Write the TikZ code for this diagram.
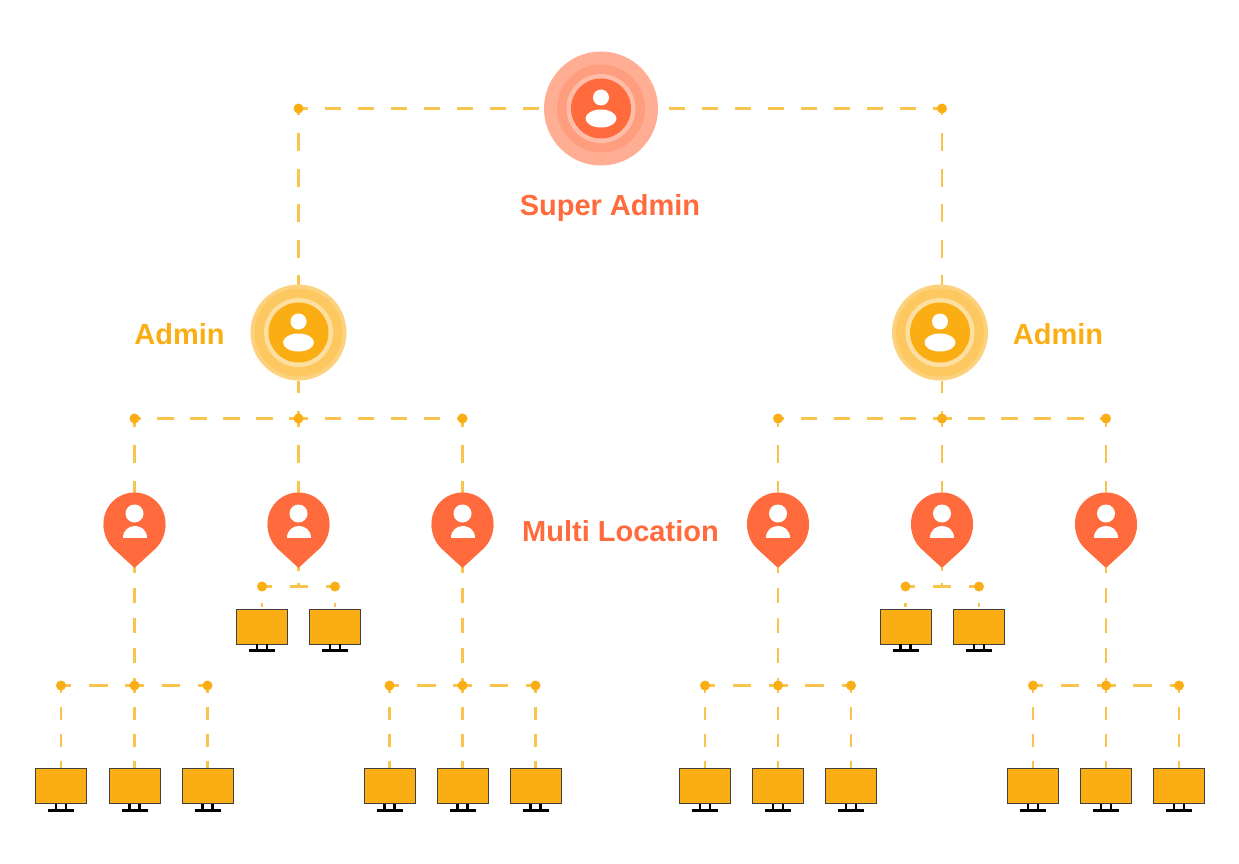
\documentclass[tikz,border=0pt]{standalone}
\usepackage{fontspec}
\setmainfont{Liberation Sans}
\usepackage{xcolor}
\usetikzlibrary{positioning,backgrounds}

\definecolor{coral}{HTML}{FF6B3D}
\definecolor{amber}{HTML}{FBAE14}
\definecolor{dashline}{HTML}{F8C44E}

% person glyph, drawn around the origin of the current scope
\newcommand{\personicon}{%
  \fill[white] (0,-11) circle (8);
  \fill[white] (0,10) ellipse (15.5 and 9);
}
% rings of a role badge: scale, middle ring, thin ring, core
\newcommand{\rolerings}[4]{%
  \begin{scope}[shift={(path picture bounding box.center)},scale=#1]
    \fill[#2] (0,0) circle (44);
    \fill[#3] (0,0) circle (34.5);
    \fill[#4] (0,0) circle (30);
    \personicon
  \end{scope}
}

\begin{document}
\begin{tikzpicture}[
  x=1pt,y=-1pt,
  on grid,
  every node/.style={font=\fontsize{29}{32}\selectfont\bfseries,inner sep=0pt,outer sep=0pt},
  superbadge/.style={circle,fill=coral!55!white,minimum size=114pt,path picture={\rolerings{1}{coral!66!white}{coral!45!white}{coral}}},
  adminbadge/.style={circle,fill=amber!55!white,minimum size=96pt,path picture={\rolerings{0.83}{amber!68!white}{amber!40!white}{amber}}},
  pinmark/.style={circle,fill=coral,minimum size=62pt,
    append after command={\pgfextra{
      \fill[coral] (\tikzlastnode.center) ++(-31,0) .. controls ++(0,14) and ++(-5.5,-5) .. ++(11.5,26.5)
        -- ++(18.5,17) -- ++(1,0.6) -- ++(1,-0.6) -- ++(18.5,-17)
        .. controls ++(5.5,-5) and ++(0,14) .. ++(11.5,-26.5) -- cycle;}},
    path picture={\begin{scope}[shift={(path picture bounding box.center)}]
      \fill[white] (0,-10) circle (9);
      \fill[white] (-12,14) .. controls (-12,-2) and (12,-2) .. (12,14) -- cycle;
    \end{scope}}},
  dot/.style={circle,fill=amber,minimum size=10pt},
  screen/.style={rectangle,draw=black!75,line width=0.9pt,fill=amber,minimum width=51pt,minimum height=35pt,
    append after command={
      (\tikzlastnode.south) ++(-5,0) edge[stand] ++(0,5)
      (\tikzlastnode.south) ++(5,0) edge[stand] ++(0,5)
      (\tikzlastnode.south) ++(-13,6.5) edge[stand,line width=3pt] ++(26,0)}},
  stand/.style={draw=black,line width=2.4pt},
  link/.style={draw=dashline,line width=2.2pt,dash pattern=on 16.5pt off 16.5pt,dash phase=7pt},
  rise/.style={draw=dashline,line width=2.2pt,dash pattern=on 18pt off 17.5pt,dash phase=11pt},
  feed/.style={draw=dashline,line width=2.2pt,dash pattern=on 18pt off 18pt,dash phase=10pt},
  drop/.style={draw=dashline,line width=2.2pt,dash pattern=on 15pt off 15pt,dash phase=7pt},
  lead/.style={draw=dashline,line width=2.2pt,dash pattern=on 13pt off 14pt,dash phase=6pt},
  fork/.style={draw=dashline,line width=2.2pt,dash pattern=on 9.5pt off 17.5pt on 18.5pt off 18pt on 10pt off 5pt},
  tie/.style={draw=dashline,line width=2.2pt,dash pattern=on 9pt off 18pt},
  stub/.style={draw=dashline,line width=2.2pt,dash pattern=on 4pt off 12pt},
  label/.style={text=coral},
  adminlabel/.style={text=amber}
]
\useasboundingbox (0,0) rectangle (1239,864);

\node[superbadge] (super) at (601,108.5) {};
\node[dot,left=302.5pt of super] (cornerL) {};
\node[dot,right=341pt of super] (cornerR) {};
\node[label,below=99.5pt of super,xshift=9pt] (superText) {Super Admin};

% left branch
\node[adminbadge,below=224pt of cornerL] (adminL) {};
\node[adminlabel,left=119pt of adminL,yshift=-1.5pt] (adminTextL) {Admin};
\node[dot,below=86pt of adminL] (hubL) {};
\node[dot,left=164pt of hubL] (hubLa) {};
\node[dot,right=164pt of hubL] (hubLc) {};
\node[pinmark,below=105pt of hubLa] (pinLa) {};
\node[pinmark,below=105pt of hubL] (pinLb) {};
\node[pinmark,below=105pt of hubLc] (pinLc) {};
\node[label,right=158pt of pinLc,yshift=-8pt] (multiText) {Multi Location};

\node[dot,below=162pt of pinLa] (forkLa) {};
\node[dot,left=73.5pt of forkLa] (forkLa1) {};
\node[dot,right=73pt of forkLa] (forkLa3) {};
\node[screen,below=100.5pt of forkLa1] (screenLa1) {};
\node[screen,below=100.5pt of forkLa] (screenLa2) {};
\node[screen,below=100.5pt of forkLa3] (screenLa3) {};

\coordinate[below=63pt of pinLb] (forkLb);
\node[dot,below=63pt of pinLb,xshift=-36.5pt] (forkLb1) {};
\node[dot,below=63pt of pinLb,xshift=36.5pt] (forkLb2) {};
\node[screen,below=40pt of forkLb1] (screenLb1) {};
\node[screen,below=40pt of forkLb2] (screenLb2) {};

\node[dot,below=162pt of pinLc] (forkLc) {};
\node[dot,left=73pt of forkLc] (forkLc1) {};
\node[dot,right=73pt of forkLc] (forkLc3) {};
\node[screen,below=100.5pt of forkLc1] (screenLc1) {};
\node[screen,below=100.5pt of forkLc] (screenLc2) {};
\node[screen,below=100.5pt of forkLc3] (screenLc3) {};

% right branch
\node[adminbadge,below=224pt of cornerR,xshift=-2pt] (adminR) {};
\node[adminlabel,right=118pt of adminR,yshift=-1.5pt] (adminTextR) {Admin};
\node[dot,below=310pt of cornerR] (hubR) {};
\node[dot,left=164pt of hubR] (hubRa) {};
\node[dot,right=164pt of hubR] (hubRc) {};
\node[pinmark,below=105pt of hubRa] (pinRa) {};
\node[pinmark,below=105pt of hubR] (pinRb) {};
\node[pinmark,below=105pt of hubRc] (pinRc) {};

\node[dot,below=162pt of pinRa] (forkRa) {};
\node[dot,left=73pt of forkRa] (forkRa1) {};
\node[dot,right=73pt of forkRa] (forkRa3) {};
\node[screen,below=100.5pt of forkRa1] (screenRa1) {};
\node[screen,below=100.5pt of forkRa] (screenRa2) {};
\node[screen,below=100.5pt of forkRa3] (screenRa3) {};

\coordinate[below=63pt of pinRb] (forkRb);
\node[dot,below=63pt of pinRb,xshift=-36.5pt] (forkRb1) {};
\node[dot,below=63pt of pinRb,xshift=37pt] (forkRb2) {};
\node[screen,below=40pt of forkRb1] (screenRb1) {};
\node[screen,below=40pt of forkRb2] (screenRb2) {};

\node[dot,below=162pt of pinRc] (forkRc) {};
\node[dot,left=73pt of forkRc] (forkRc1) {};
\node[dot,right=73pt of forkRc] (forkRc3) {};
\node[screen,below=100.5pt of forkRc1] (screenRc1) {};
\node[screen,below=100.5pt of forkRc] (screenRc2) {};
\node[screen,below=100.5pt of forkRc3] (screenRc3) {};

\begin{scope}[on background layer]
\draw[link] (cornerL.center) -- (super);
\draw[link] (cornerR.center) -- (super);
\draw[rise] (cornerL.center) -- (adminL);
\draw[rise] (cornerR.center) -- (cornerR.center |- adminR.north);

\draw[feed] (hubL.center) -- (adminL);
\draw[link] (hubL.center) -- (hubLa.center);
\draw[link] (hubL.center) -- (hubLc.center);
\draw[feed] (hubLa.center) -- (pinLa);
\draw[feed] (hubL.center) -- (pinLb);
\draw[feed] (hubLc.center) -- (pinLc);
\draw[drop] (forkLa.center) -- (pinLa);
\draw[fork] (forkLa.center) -- (forkLa1.center);
\draw[fork] (forkLa.center) -- (forkLa3.center);
\draw[lead] (forkLa1.center) -- (screenLa1);
\draw[lead] (forkLa.center) -- (screenLa2);
\draw[lead] (forkLa3.center) -- (screenLa3);
\draw[stub] (forkLb) -- (pinLb);
\draw[tie] (forkLb) -- (forkLb1.center);
\draw[tie] (forkLb) -- (forkLb2.center);
\draw[stub] (forkLb1.center) -- (screenLb1);
\draw[stub] (forkLb2.center) -- (screenLb2);
\draw[drop] (forkLc.center) -- (pinLc);
\draw[fork] (forkLc.center) -- (forkLc1.center);
\draw[fork] (forkLc.center) -- (forkLc3.center);
\draw[lead] (forkLc1.center) -- (screenLc1);
\draw[lead] (forkLc.center) -- (screenLc2);
\draw[lead] (forkLc3.center) -- (screenLc3);

\draw[feed] (hubR.center) -- (hubR.center |- adminR.south);
\draw[link] (hubR.center) -- (hubRa.center);
\draw[link] (hubR.center) -- (hubRc.center);
\draw[feed] (hubRa.center) -- (pinRa);
\draw[feed] (hubR.center) -- (pinRb);
\draw[feed] (hubRc.center) -- (pinRc);
\draw[drop] (forkRa.center) -- (pinRa);
\draw[fork] (forkRa.center) -- (forkRa1.center);
\draw[fork] (forkRa.center) -- (forkRa3.center);
\draw[lead] (forkRa1.center) -- (screenRa1);
\draw[lead] (forkRa.center) -- (screenRa2);
\draw[lead] (forkRa3.center) -- (screenRa3);
\draw[stub] (forkRb) -- (pinRb);
\draw[tie] (forkRb) -- (forkRb1.center);
\draw[tie] (forkRb) -- (forkRb2.center);
\draw[stub] (forkRb1.center) -- (screenRb1);
\draw[stub] (forkRb2.center) -- (screenRb2);
\draw[drop] (forkRc.center) -- (pinRc);
\draw[fork] (forkRc.center) -- (forkRc1.center);
\draw[fork] (forkRc.center) -- (forkRc3.center);
\draw[lead] (forkRc1.center) -- (screenRc1);
\draw[lead] (forkRc.center) -- (screenRc2);
\draw[lead] (forkRc3.center) -- (screenRc3);
\end{scope}
\end{tikzpicture}
\end{document}
